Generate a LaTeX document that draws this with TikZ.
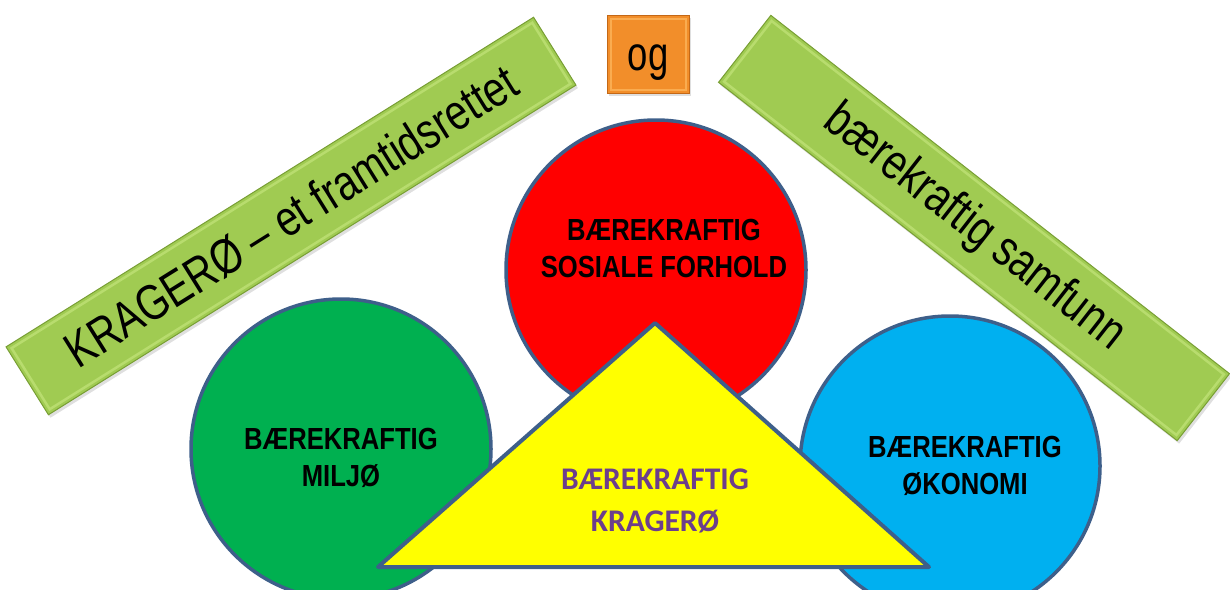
\documentclass[tikz,border=0pt]{standalone}
\usepackage{fontspec}
\setmainfont{Liberation Sans}
\newfontfamily\circfont[FakeStretch=0.84]{Liberation Sans}
\newfontfamily\bannerfont[FakeStretch=0.8]{Liberation Sans}
\newfontfamily\ogfont[FakeStretch=0.76]{Liberation Sans}
\newfontfamily\trifont{Carlito}
\usetikzlibrary{shadows}
\definecolor{banner}{RGB}{160,203,82}
\definecolor{bannerdark}{RGB}{120,158,52}
\definecolor{bannerlight}{RGB}{184,220,110}
\definecolor{ogorange}{RGB}{242,142,42}
\definecolor{ogdark}{RGB}{196,104,22}
\definecolor{oglight}{RGB}{250,172,80}
\definecolor{ringblue}{RGB}{62,95,138}
\definecolor{cred}{RGB}{255,0,0}
\definecolor{cgreen}{RGB}{0,176,80}
\definecolor{cblue}{RGB}{0,176,240}
\definecolor{cyellow}{RGB}{255,255,0}
\definecolor{tpurple}{RGB}{108,62,140}
\begin{document}
\begin{tikzpicture}[x=1pt,y=-1pt,
  bannerbox/.style={rectangle, draw=bannerdark, line width=1pt, fill=banner,
    inner sep=0pt, font=\bannerfont\fontsize{50}{50}\selectfont,
    drop shadow={opacity=0.25, shadow xshift=2pt, shadow yshift=-3pt}},
  bevel/.style={rectangle, draw=bannerlight, line width=2.5pt, inner sep=0pt},
  ogbox/.style={rectangle, draw=ogdark, line width=1pt, fill=ogorange,
    inner sep=0pt,
    drop shadow={opacity=0.25, shadow xshift=2pt, shadow yshift=-3pt}},
  disc/.style={circle, draw=ringblue, line width=3.5pt, inner sep=0pt, minimum size=300pt},
  circtext/.style={align=center, text=black, font=\circfont\bfseries\fontsize{30.5}{37}\selectfont},
  tritext/.style={align=center, text=tpurple, font=\trifont\bfseries\fontsize{31.5}{42}\selectfont}
]
\useasboundingbox (0,0) rectangle (1230,589);
\clip (0,0) rectangle (1230,589);
% banners
\node[bannerbox, minimum width=622pt, minimum height=80pt, rotate=32] (lb) at (291,216) {};
\node[bevel, minimum width=614pt, minimum height=72pt, rotate=32] (lbb) at (291,216) {};
\node[font=\bannerfont\fontsize{50}{50}\selectfont, rotate=32, inner sep=0pt] (lbt) at (291,216) {KRAGERØ – et framtidsrettet};
\node[bannerbox, minimum width=582pt, minimum height=85pt, rotate=-38] (rb) at (974,228) {};
\node[bevel, minimum width=574pt, minimum height=77pt, rotate=-38] (rbb) at (974,228) {};
\node[font=\bannerfont\fontsize{50}{50}\selectfont, rotate=-38, inner sep=0pt] (rbt) at (974,228) {bærekraftig samfunn};
\node[ogbox, minimum width=82pt, minimum height=78pt] (og) at (648,54) {};
\node[rectangle, draw=oglight, line width=2pt, minimum width=75pt, minimum height=71pt, inner sep=0pt] (ogb) at (648,54) {};
\node[font=\ogfont\fontsize{48}{48}\selectfont, inner sep=0pt] (ogt) at (648,63) {og};
% circles
\node[disc, fill=cred] (rc) at (656,270) {};
\node[disc, fill=cgreen] (gc) at (341,449) {};
\node[disc, fill=cblue] (bc) at (950,466) {};
\node[circtext] (rt) at (664,248) {BÆREKRAFTIG\\SOSIALE FORHOLD};
\node[circtext] (gt) at (341,458) {BÆREKRAFTIG\\MILJØ};
\node[circtext] (bt) at (965,466) {BÆREKRAFTIG\\ØKONOMI};
% triangle
\coordinate (tA) at (655,323);
\coordinate (tL) at (378,567);
\coordinate (tR) at (929,567);
\draw[ringblue, line width=4pt, line join=round, fill=cyellow] (tA) -- (tL) -- (tR) -- cycle;
\node[tritext] (tt) at (655,501) {BÆREKRAFTIG\\KRAGERØ};
\end{tikzpicture}
\end{document}
